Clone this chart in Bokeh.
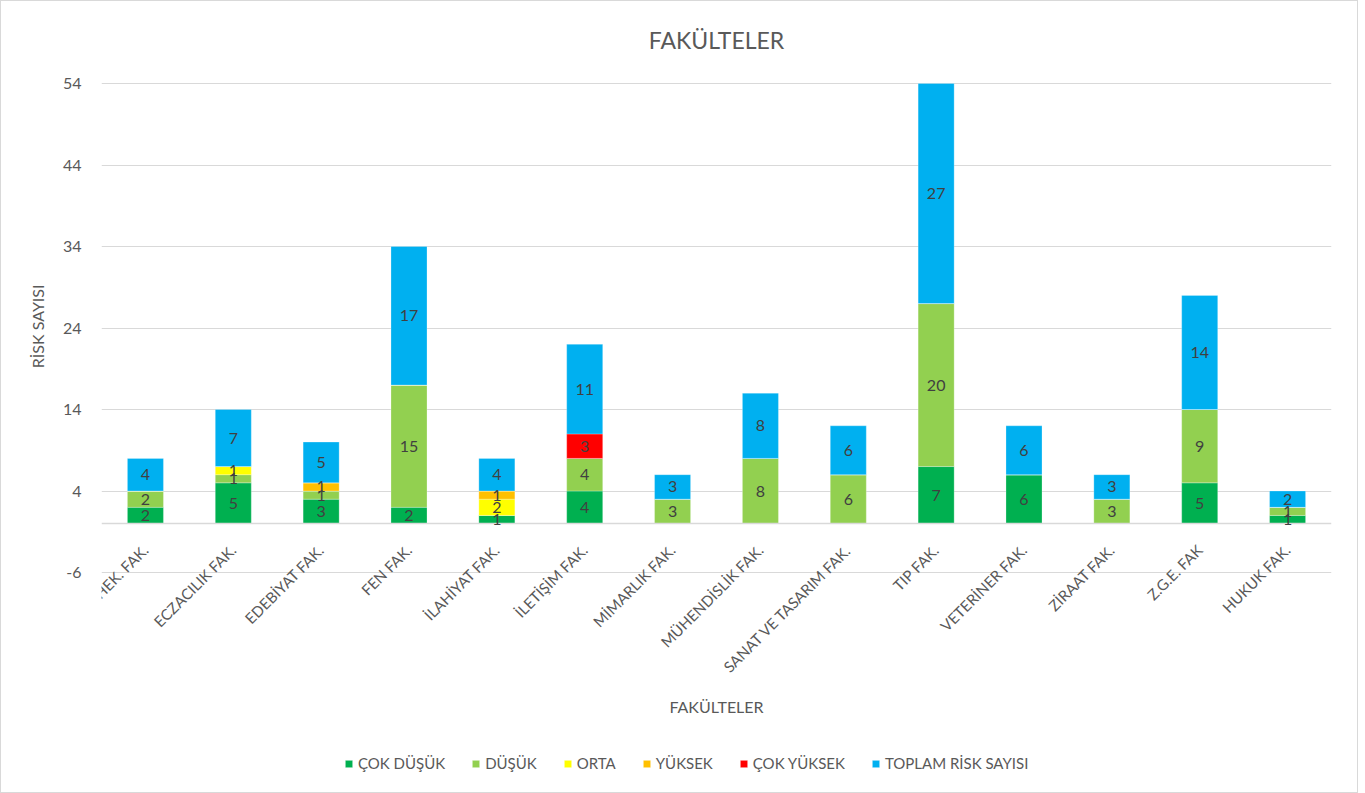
from math import pi
from bokeh.plotting import figure
from bokeh.models import (ColumnDataSource, Legend, LegendItem, FixedTicker, LabelSet, Label,
                          Span, Title)
from bokeh.core.properties import value
from bokeh.embed import file_html
from bokeh.resources import INLINE

faculties = ["DİŞ HEK. FAK.", "ECZACILIK FAK.", "EDEBİYAT FAK.", "FEN FAK.", "İLAHİYAT FAK.",
             "İLETİŞİM FAK.", "MİMARLIK FAK.", "MÜHENDİSLİK FAK.", "SANAT VE TASARIM FAK.",
             "TIP FAK.", "VETERİNER FAK.", "ZİRAAT FAK.", "Z.G.E. FAK", "HUKUK FAK."]
cok_dusuk = [2, 5, 3, 2, 1, 4, 0, 0, 0, 7, 6, 0, 5, 1]
dusuk = [2, 1, 1, 15, 0, 4, 3, 8, 6, 20, 0, 3, 9, 1]
orta = [0, 1, 0, 0, 2, 0, 0, 0, 0, 0, 0, 0, 0, 0]
yuksek = [0, 0, 1, 0, 1, 0, 0, 0, 0, 0, 0, 0, 0, 0]
cok_yuksek = [0, 0, 0, 0, 0, 3, 0, 0, 0, 0, 0, 0, 0, 0]
toplam = [4, 7, 5, 17, 4, 11, 3, 8, 6, 27, 6, 3, 14, 2]

series_names = ["ÇOK DÜŞÜK", "DÜŞÜK", "ORTA", "YÜKSEK", "ÇOK YÜKSEK", "TOPLAM RİSK SAYISI"]
series_keys = ["cd", "d", "o", "y", "cy", "t"]
series_vals = [cok_dusuk, dusuk, orta, yuksek, cok_yuksek, toplam]
colors = ["#00B050", "#92D050", "#FFFF00", "#FFC000", "#FF0000", "#00B0F0"]
y_ticks = [-6, 4, 14, 24, 34, 44, 54]
y_tick_labels = ["-6", "4", "14", "24", "34", "44", "54"]
chart_title = "FAKÜLTELER"
x_title = "FAKÜLTELER"
y_title = "RİSK SAYISI"

FONT = "Lato"
GRAY = "#595959"

# layout: the plotting frame spans the whole chart height so that in-chart texts are not clipped
FRAME_TOP, FRAME_BOTTOM = 10, 782
AX_TOP_PX, AX_BOTTOM_PX = 82, 571          # screen rows of 54 and -6
PX_PER_UNIT = (AX_BOTTOM_PX - AX_TOP_PX) / (y_ticks[-1] - y_ticks[0])


def y_at(px):
    return y_ticks[0] - (px - AX_BOTTOM_PX) / PX_PER_UNIT


y_lo, y_hi = y_at(FRAME_BOTTOM), y_at(FRAME_TOP)

data = {"fac": faculties}
for k, v in zip(series_keys, series_vals):
    data[k] = v
source = ColumnDataSource(data)

p = figure(x_range=faculties, y_range=(y_lo, y_hi), frame_width=1230,
           frame_height=FRAME_BOTTOM - FRAME_TOP, title=None, x_axis_location=None,
           output_backend="svg", toolbar_location=None,
           min_border_left=100, min_border_right=26, min_border_top=FRAME_TOP,
           min_border_bottom=9, styles={"border": "1px solid #d9d9d9"})

renderers = p.vbar_stack(series_keys, x="fac", width=0.41, source=source,
                         color=colors, line_color="white", line_alpha=0.5, line_width=0.5)

# zero line (category axis)
p.add_layout(Span(location=0, dimension="width", line_color="#d9d9d9", line_width=1.5))

# segment value labels
base = [0] * len(faculties)
for k, v in zip(series_keys, series_vals):
    xs, ys, ts = [], [], []
    for i, val in enumerate(v):
        if val > 0:
            xs.append(faculties[i])
            ys.append(base[i] + val / 2)
            ts.append(str(val))
        base[i] += val
    ls = ColumnDataSource(dict(x=xs, y=ys, t=ts))
    p.add_layout(LabelSet(x="x", y="y", text="t", source=ls, text_align="center",
                          text_baseline="middle", text_color="#404040",
                          text_font=value(FONT), text_font_size="16px"))

# category labels, rotated 45 degrees, hanging below the zero line
cat_src = ColumnDataSource(dict(x=faculties, y=[y_at(550)] * len(faculties), t=faculties))
p.add_layout(LabelSet(x="x", y="y", text="t", source=cat_src, angle=pi / 4,
                      x_offset=4, text_align="right", text_baseline="alphabetic",
                      text_color=GRAY, text_font=value(FONT), text_font_size="15px"))

# chart title and x-axis title
p.add_layout(Label(x=len(faculties) / 2, y=y_at(38), text=chart_title, text_align="center",
                   text_baseline="middle", text_color=GRAY, text_font=FONT,
                   text_font_size="23px"))
p.add_layout(Label(x=len(faculties) / 2, y=y_at(705), text=x_title, text_align="center",
                   text_baseline="middle", text_color=GRAY, text_font=FONT,
                   text_font_size="16px"))

p.yaxis.ticker = FixedTicker(ticks=y_ticks)
p.yaxis.major_label_overrides = {t: s for t, s in zip(y_ticks, y_tick_labels)}
p.yaxis.axis_line_color = None
p.yaxis.major_tick_line_color = None
p.yaxis.minor_tick_line_color = None
p.yaxis.major_label_text_font = FONT
p.yaxis.major_label_text_font_size = "16px"
p.yaxis.major_label_text_color = GRAY
p.yaxis.major_label_standoff = 14

ytitle = Title(text=y_title, align="right", vertical_align="bottom",
               offset=AX_TOP_PX + 201 - FRAME_TOP, standoff=26,
               text_font=FONT, text_font_size="16px", text_font_style="normal",
               text_color=GRAY)
p.add_layout(ytitle, "left")

p.xgrid.grid_line_color = None
p.ygrid.grid_line_color = "#d9d9d9"
p.ygrid.ticker = FixedTicker(ticks=y_ticks)
p.outline_line_color = None

items = [LegendItem(label=n, renderers=[r]) for n, r in zip(series_names, renderers)]
legend = Legend(items=items, orientation="horizontal", location=(243, 11),
                label_text_font=FONT, label_text_font_size="15px", label_text_color=GRAY,
                glyph_width=9, glyph_height=9, spacing=26, label_standoff=5,
                padding=0, margin=0, label_height=18,
                border_line_color=None, background_fill_alpha=0)
p.add_layout(legend, "center")

open("out.html", "w").write(file_html(p, INLINE))
